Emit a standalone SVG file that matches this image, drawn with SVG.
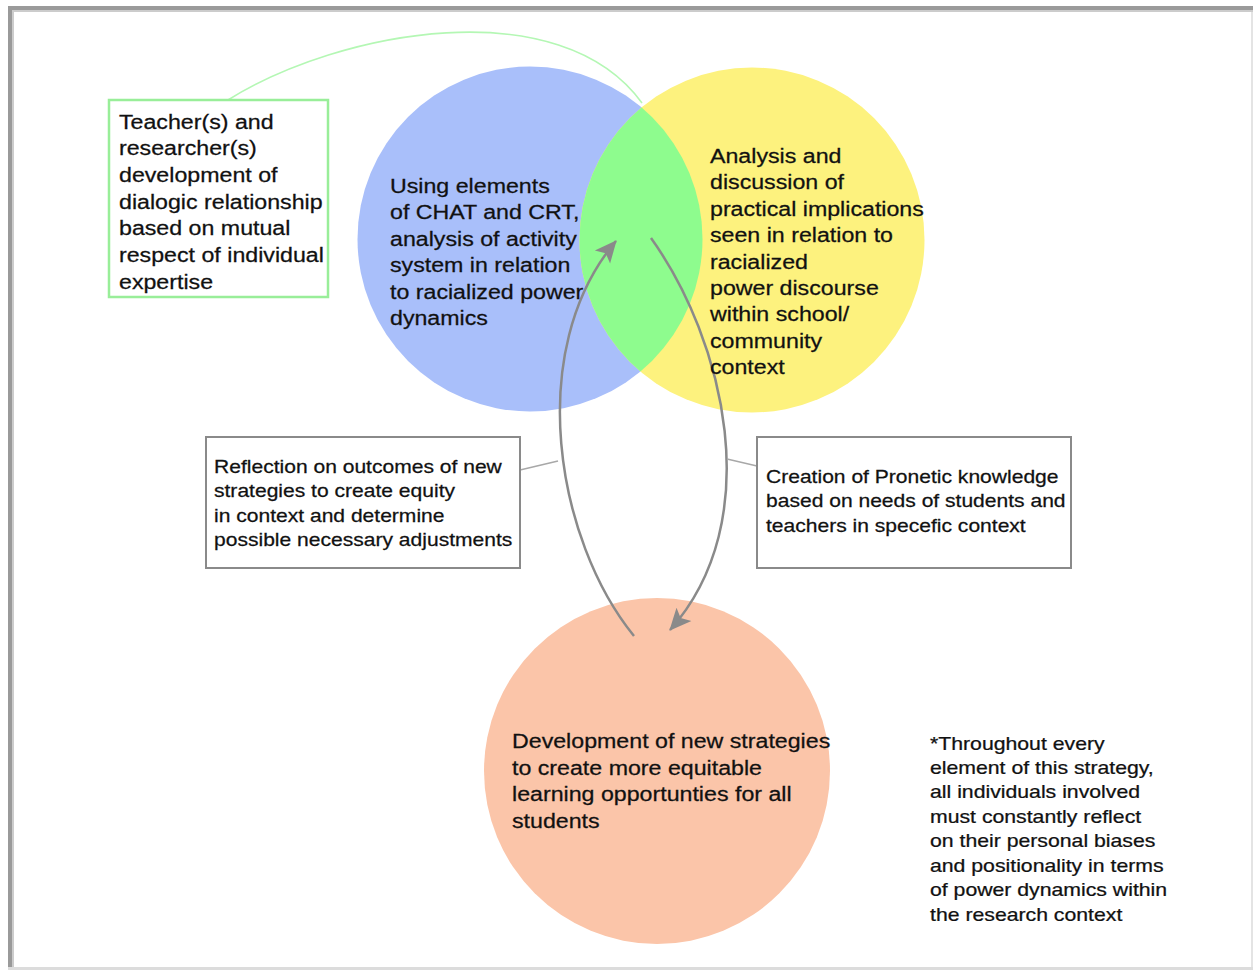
<svg xmlns="http://www.w3.org/2000/svg" width="1253" height="970" viewBox="0 0 1253 970">
<style>
.t{font-family:"Liberation Sans",Arial,sans-serif;fill:#111;stroke:#111;stroke-width:0.25;}
.big{font-size:20px;}
.sm{font-size:18px;}
.box{fill:#fff;stroke:#8a8a8a;stroke-width:2;}
.con{fill:none;stroke:#8a8a8a;stroke-width:2.5;}
.lead{fill:none;stroke:#a8a8a8;stroke-width:1.5;}
</style>
<defs>
<clipPath id="clipBlue"><circle cx="530" cy="239" r="172.5"/></clipPath>
<marker id="ah" markerUnits="userSpaceOnUse" markerWidth="26" markerHeight="22" refX="21" refY="10" orient="auto" viewBox="0 0 26 20">
<path d="M0,0 L22,10 L0,20 L5,10 Z" fill="#8a8a8a"/>
</marker>
</defs>
<rect x="0" y="0" width="1253" height="970" fill="#fff"/>
<g id="frame">
<rect x="8" y="6" width="1245" height="4" fill="#9a9a9a"/>
<rect x="12" y="10" width="1241" height="2" fill="#cccccc"/>
<rect x="8" y="6" width="4" height="964" fill="#9a9a9a"/>
<rect x="12" y="10" width="2" height="960" fill="#cccccc"/>
<rect x="8" y="967" width="1245" height="3" fill="#dcdcdc"/>
<rect x="1251" y="12" width="2" height="955" fill="#e4e4e4"/>
</g>
<g id="circle-blue">
<circle cx="530" cy="239" r="172.5" fill="#a9bffa"/>
</g>
<g id="circle-yellow">
<circle cx="752" cy="240" r="172.5" fill="#fdf27e"/>
<circle cx="752" cy="240" r="172.5" fill="#8efc8e" clip-path="url(#clipBlue)"/>
</g>
<g id="circle-salmon">
<circle cx="657" cy="771" r="173" fill="#fbc5a9"/>
</g>
<g id="connectors">
<path d="M228,100 C340,30 560,-10 642,103" fill="none" stroke="#b4f7b4" stroke-width="1.6"/>
<path class="con" d="M634,636 C556,540 524,350 616,241" marker-end="url(#ah)"/>
<path class="con" d="M651,238 C724,340 768,520 670,630" marker-end="url(#ah)"/>
<path class="lead" d="M520,470 L558,461"/>
<path class="lead" d="M757,466 L727,459"/>
</g>
<g id="node-teacher">
<rect x="109" y="100" width="219" height="197" fill="#fff" stroke="#99ee99" stroke-width="2.5"/>
<text class="t big" transform="translate(119,128.5) scale(1.16,1)"><tspan x="0" dy="0">Teacher(s) and</tspan><tspan x="0" dy="26.7">researcher(s)</tspan><tspan x="0" dy="26.7">development of</tspan><tspan x="0" dy="26.7">dialogic relationship</tspan><tspan x="0" dy="26.7">based on mutual</tspan><tspan x="0" dy="26.7">respect of individual</tspan><tspan x="0" dy="26.7">expertise</tspan></text>
</g>
<g id="node-chat">
<text class="t big" transform="translate(390,193) scale(1.16,1)"><tspan x="0" dy="0">Using elements</tspan><tspan x="0" dy="26.4">of CHAT and CRT,</tspan><tspan x="0" dy="26.4">analysis of activity</tspan><tspan x="0" dy="26.4">system in relation</tspan><tspan x="0" dy="26.4">to racialized power</tspan><tspan x="0" dy="26.4">dynamics</tspan></text>
</g>
<g id="node-analysis">
<text class="t big" transform="translate(710,163) scale(1.16,1)"><tspan x="0" dy="0">Analysis and</tspan><tspan x="0" dy="26.4">discussion of</tspan><tspan x="0" dy="26.4">practical implications</tspan><tspan x="0" dy="26.4">seen in relation to</tspan><tspan x="0" dy="26.4">racialized</tspan><tspan x="0" dy="26.4">power discourse</tspan><tspan x="0" dy="26.4">within school/</tspan><tspan x="0" dy="26.4">community</tspan><tspan x="0" dy="26.4">context</tspan></text>
</g>
<g id="node-development">
<text class="t big" transform="translate(512,748) scale(1.16,1)"><tspan x="0" dy="0">Development of new strategies</tspan><tspan x="0" dy="26.6">to create more equitable</tspan><tspan x="0" dy="26.6">learning opportunties for all</tspan><tspan x="0" dy="26.6">students</tspan></text>
</g>
<g id="node-reflection">
<rect class="box" x="206" y="437" width="314" height="131"/>
<text class="t sm" transform="translate(214,472.5) scale(1.17,1)"><tspan x="0" dy="0">Reflection on outcomes of new</tspan><tspan x="0" dy="24.6">strategies to create equity</tspan><tspan x="0" dy="24.6">in context and determine</tspan><tspan x="0" dy="24.6">possible necessary adjustments</tspan></text>
</g>
<g id="node-creation">
<rect class="box" x="757" y="437" width="314" height="131"/>
<text class="t sm" transform="translate(766,482.5) scale(1.17,1)"><tspan x="0" dy="0">Creation of Pronetic knowledge</tspan><tspan x="0" dy="24.6">based on needs of students and</tspan><tspan x="0" dy="24.6">teachers in specefic context</tspan></text>
</g>
<g id="note">
<text class="t sm" transform="translate(930,749.5) scale(1.18,1)"><tspan x="0" dy="0">*Throughout every</tspan><tspan x="0" dy="24.5">element of this strategy,</tspan><tspan x="0" dy="24.5">all individuals involved</tspan><tspan x="0" dy="24.5">must constantly reflect</tspan><tspan x="0" dy="24.5">on their personal biases</tspan><tspan x="0" dy="24.5">and positionality in terms</tspan><tspan x="0" dy="24.5">of power dynamics within</tspan><tspan x="0" dy="24.5">the research context</tspan></text>
</g>
</svg>
